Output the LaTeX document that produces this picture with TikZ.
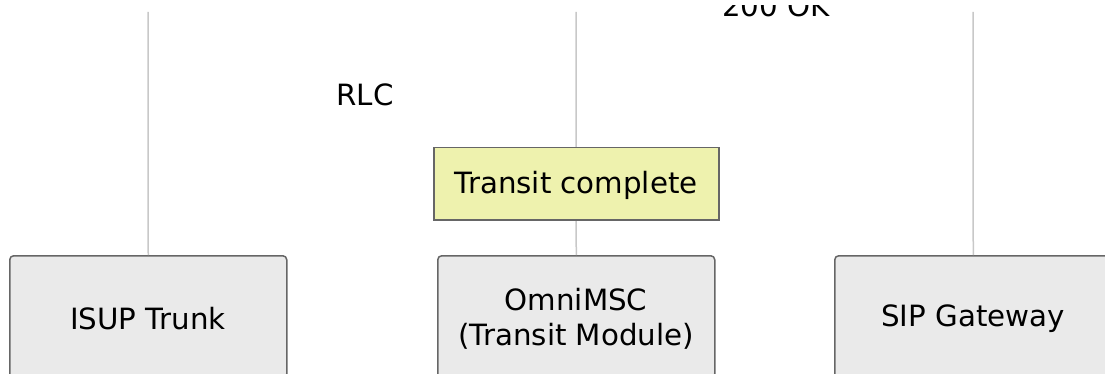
\documentclass[tikz,border=0pt]{standalone}
\usepackage{fontspec}
\setmainfont{DejaVu Sans}
\definecolor{actfill}{HTML}{EAEAEA}
\definecolor{actline}{HTML}{666666}
\definecolor{lifeline}{HTML}{C8C8C8}
\definecolor{notefill}{HTML}{EEF2AE}
\begin{document}
\begin{tikzpicture}[x=1pt,y=-1pt,
  actor/.style={draw=actline,fill=actfill,line width=1.5pt,rounded corners=4pt,minimum width=277pt,minimum height=122pt,anchor=north west,inner sep=0pt,align=center},
  note/.style={draw=actline,fill=notefill,line width=1.5pt,minimum width=285pt,minimum height=72pt,anchor=north west,inner sep=0pt},
  msg/.style={font=\fontsize{29.3}{35}\selectfont,inner sep=0pt},
  life/.style={draw=lifeline,line width=1.5pt}]
\useasboundingbox (0,0) rectangle (1105,374);
\begin{scope}
\clip (0,0) rectangle (1105,374);
\coordinate (t1) at (148,12);
\coordinate (t2) at (576,12);
\coordinate (t3) at (973,12);
\node[actor] (a1) at (9,255) {};
\node[actor] (a2) at (437,255) {};
\node[actor] (a3) at (834,255) {};
\draw[life] (t1) -- (a1.north);
\draw[life] (t2) -- (a2.north);
\draw[life] (t3) -- (a3.north);
\node[msg] (l1) at (148,319) {ISUP Trunk};
\node[msg,align=center] (l2) at (576,319) {OmniMSC\\(Transit Module)};
\node[msg] (l3) at (973,319) {SIP Gateway};
\node[note] (n1) at (433,147) {};
\node[msg] (nt) at (576,185) {Transit complete};
\node[msg,anchor=base] (m1) at (365,106) {RLC};
\end{scope}
\begin{scope}
\clip (0,6) rectangle (1105,374);
\node[msg,anchor=base] (m2) at (776,17) {200 OK};
\end{scope}
\end{tikzpicture}
\end{document}
